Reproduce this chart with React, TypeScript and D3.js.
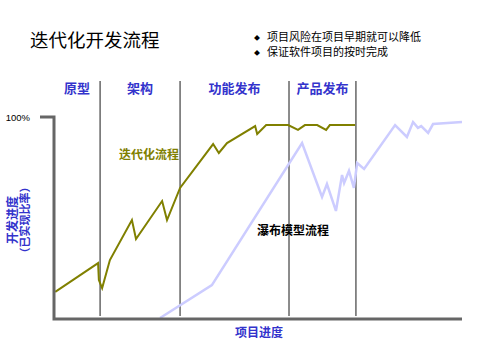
import React from "react";
import * as d3 from "d3";

const phases = ["原型", "架构", "功能发布", "产品发布"];
const phaseBounds = [0, 11.3, 30.9, 57.6, 74.0];

const iterX = [0.3, 10.8, 11.0, 11.8, 13.7, 19.1, 20.1, 26.5, 27.7, 30.9, 39.0, 40.4, 42.4, 49.3, 49.8, 52.0, 57.4, 59.8, 61.5, 64.5, 66.7, 67.6, 73.8];
const iterY = [13.4, 27.7, 19.3, 15.3, 29.2, 49.0, 39.6, 58.4, 49.0, 64.9, 86.6, 82.2, 87.1, 95.5, 91.6, 96.0, 96.0, 93.6, 96.0, 96.0, 93.6, 96.0, 96.0];

const waterX = [26.0, 38.7, 60.8, 65.7, 66.9, 69.1, 70.6, 71.1, 72.3, 73.5, 74.3, 76.0, 83.6, 86.5, 88.0, 89.2, 90.0, 91.7, 92.9, 100];
const waterY = [0.5, 16.8, 87.1, 60.4, 66.8, 53.5, 71.3, 67.3, 73.3, 64.9, 77.2, 74.3, 96.0, 90.1, 97.5, 94.6, 95.5, 92.1, 96.5, 97.5];

const title = "迭代化开发流程";
const bullets = ["项目风险在项目早期就可以降低", "保证软件项目的按时完成"];

const FONT = "'Noto Sans CJK SC', 'Noto Sans', sans-serif";
const BLUE = "#3333cc";

export default function App() {
  const x = d3.scaleLinear().domain([0, 100]).range([54, 462]);
  const y = d3.scaleLinear().domain([0, 100]).range([319, 117]);
  const line = d3
    .line<[number, number]>()
    .x((d) => x(d[0]))
    .y((d) => y(d[1]));
  const iter = iterX.map((v, i) => [v, iterY[i]] as [number, number]);
  const water = waterX.map((v, i) => [v, waterY[i]] as [number, number]);

  return (
    <svg
      width={480}
      height={360}
      style={{ position: "absolute", left: 0, top: 0, background: "#fff" }}
      fontFamily={FONT}
    >
      <text x={30} y={47} fontSize={18.5} fill="#000">
        {title}
      </text>
      {bullets.map((b, i) => (
        <g key={b}>
          <text x={257} y={40 + i * 14.5} fontSize={6} fill="#000" textAnchor="middle">
            ◆
          </text>
          <text x={267} y={41 + i * 14.5} fontSize={11} fill="#000">
            {b}
          </text>
        </g>
      ))}
      {phaseBounds.slice(1).map((b) => (
        <line key={b} x1={x(b)} x2={x(b)} y1={81} y2={316} stroke="#666" strokeWidth={1.5} />
      ))}
      {phases.map((p, i) => (
        <text
          key={p}
          x={(x(phaseBounds[i]) + x(phaseBounds[i + 1])) / 2}
          y={93}
          fontSize={13}
          fontWeight="bold"
          fill={BLUE}
          textAnchor="middle"
        >
          {p}
        </text>
      ))}
      <path d={line(water) || ""} fill="none" stroke="#ccccff" strokeWidth={2.5} strokeLinejoin="miter" />
      <path d={line(iter) || ""} fill="none" stroke="#808000" strokeWidth={2} />
      <path
        d={`M${x(0) - 14},${y(100)}H${x(0)}V${y(0)}H${x(100)}`}
        fill="none"
        stroke="#666"
        strokeWidth={3}
      />
      <text x={30} y={121} fontSize={9.5} fontFamily="'Liberation Sans', Arial, sans-serif" textAnchor="end" fill="#000">
        100%
      </text>
      <text x={149} y={159} fontSize={12} fontWeight="bold" fill="#808000" textAnchor="middle">
        迭代化流程
      </text>
      <text x={293} y={235} fontSize={12} fontWeight="bold" fill="#000" textAnchor="middle">
        瀑布模型流程
      </text>
      <text x={259} y={337} fontSize={12} fontWeight="bold" fill={BLUE} textAnchor="middle">
        项目进度
      </text>
      <g transform="translate(12.5,220) rotate(-90)">
        <text x={0} y={4.2} fontSize={12} fontWeight="bold" fill={BLUE} textAnchor="middle">
          开发进度
        </text>
      </g>
      <g transform="translate(25,220) rotate(-90)">
        <text x={0} y={4} fontSize={11} fontWeight="bold" fill={BLUE} textAnchor="middle">
          （已实现比率）
        </text>
      </g>
    </svg>
  );
}
